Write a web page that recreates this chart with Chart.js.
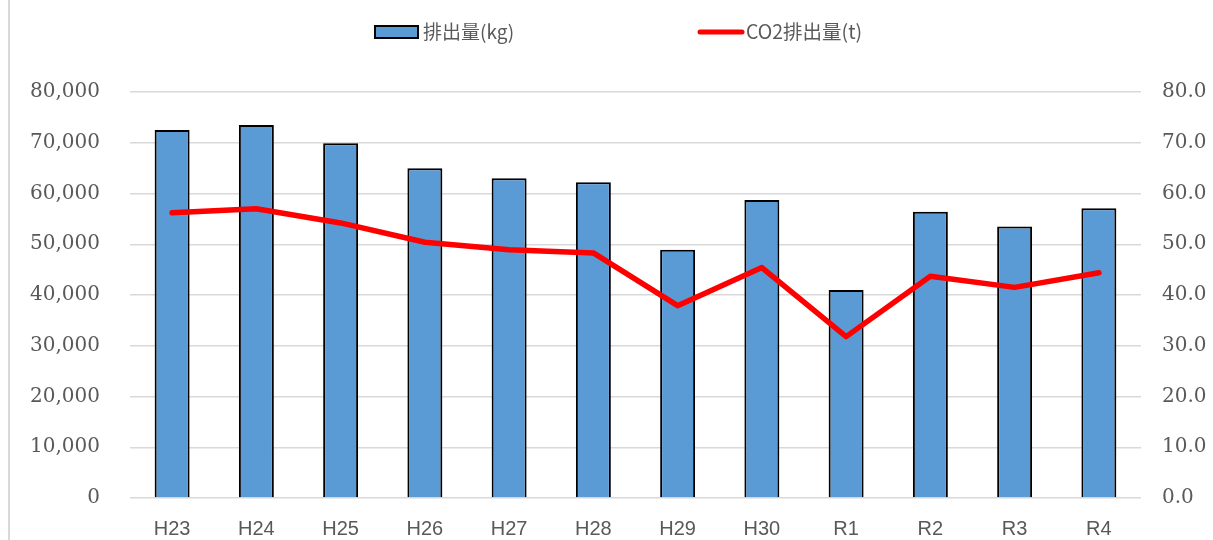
<!DOCTYPE html>
<html lang="ja">
<head>
  <meta charset="UTF-8" />
  <title>排出量</title>
  <script src="https://cdn.jsdelivr.net/npm/chart.js"></script>
  <style>
    html, body { margin: 0; padding: 0; background: #fff; }
    #wrap { width: 1213px; height: 540px; }
  </style>
</head>
<body>
  <div id="wrap"><canvas id="chart"></canvas></div>

  <script>
    // Data
    const years = ['H23', 'H24', 'H25', 'H26', 'H27', 'H28', 'H29', 'H30', 'R1', 'R2', 'R3', 'R4'];
    const emissionKg = [72500, 73500, 69900, 65000, 63000, 62200, 48900, 58700, 41000, 56400, 53500, 57100];
    const co2Tons = [56.2, 57.0, 54.2, 50.4, 48.9, 48.3, 37.9, 45.4, 31.8, 43.7, 41.5, 44.4];
    const leftTicks = [0, 10000, 20000, 30000, 40000, 50000, 60000, 70000, 80000];
    const rightTicks = [0, 10, 20, 30, 40, 50, 60, 70, 80];

    const barColor = '#5B9BD5';
    const lineColor = '#FF0000';
    const textColor = '#595959';
    const gridColor = '#d9d9d9';

    // legend + frame drawn by hand so it sits where the original has it
    const customLegend = {
      id: 'customLegend',
      beforeDraw(chart) {
        const ctx = chart.ctx;
        ctx.save();
        ctx.strokeStyle = gridColor;
        ctx.lineWidth = 2;
        ctx.beginPath();
        ctx.moveTo(9, 0);
        ctx.lineTo(9, 540);
        ctx.stroke();
        ctx.restore();
      },
      afterDraw(chart) {
        const ctx = chart.ctx;
        const ds = chart.data.datasets;
        ctx.save();
        ctx.font = '19px "Noto Sans CJK JP", "Noto Sans", sans-serif';
        ctx.textBaseline = 'middle';

        // bar item
        ctx.fillStyle = barColor;
        ctx.fillRect(375, 26, 43, 12);
        ctx.strokeStyle = '#000';
        ctx.lineWidth = 2;
        ctx.strokeRect(375, 26, 43, 12);
        ctx.fillStyle = textColor;
        ctx.fillText(ds[1].label, 423, 32);

        // line item
        ctx.strokeStyle = lineColor;
        ctx.lineWidth = 5;
        ctx.lineCap = 'round';
        ctx.beginPath();
        ctx.moveTo(700, 32);
        ctx.lineTo(742, 32);
        ctx.stroke();
        ctx.font = '19.5px "Noto Sans CJK JP", "Noto Sans", sans-serif';
        ctx.fillText(ds[0].label, 746, 32);
        ctx.restore();
      }
    };

    new Chart(document.getElementById('chart'), {
      data: {
        labels: years,
        datasets: [
          {
            type: 'line',
            label: 'CO2排出量(t)',
            data: co2Tons,
            yAxisID: 'y2',
            borderColor: lineColor,
            borderWidth: 5.5,
            borderCapStyle: 'round',
            borderJoinStyle: 'round',
            pointRadius: 0,
            tension: 0,
            order: 0
          },
          {
            type: 'bar',
            label: '排出量(kg)',
            data: emissionKg,
            yAxisID: 'y',
            backgroundColor: barColor,
            borderColor: '#000',
            borderWidth: 2,
            barPercentage: 0.83,
            categoryPercentage: 0.5,
            order: 1
          }
        ]
      },
      options: {
        responsive: true,
        maintainAspectRatio: false,
        animation: false,
        layout: { padding: { top: 92, left: 0, right: 0, bottom: 0 } },
        plugins: {
          legend: { display: false },
          tooltip: { enabled: false }
        },
        scales: {
          x: {
            grid: { display: false, drawTicks: false },
            border: { display: false },
            ticks: {
              padding: 19,
              color: textColor,
              font: { family: '"Liberation Sans", Arial, sans-serif', size: 20 }
            },
            afterFit: s => { s.height = 41; }
          },
          y: {
            position: 'left',
            min: 0,
            max: 80000,
            afterBuildTicks: s => { s.ticks = leftTicks.map(v => ({ value: v })); },
            grid: { color: gridColor, lineWidth: 1.5, drawTicks: false },
            border: { display: false },
            ticks: {
              padding: 30,
              color: textColor,
              font: { family: '"DejaVu Serif", serif', size: 20 },
              callback: v => v.toLocaleString('en-US')
            },
            afterFit: s => { s.width = 130; }
          },
          y2: {
            position: 'right',
            min: 0,
            max: 80,
            afterBuildTicks: s => { s.ticks = rightTicks.map(v => ({ value: v })); },
            grid: { display: false, drawTicks: false },
            border: { display: false },
            ticks: {
              padding: 21,
              color: textColor,
              font: { family: '"DejaVu Serif", serif', size: 20 },
              callback: v => v.toFixed(1)
            },
            afterFit: s => { s.width = 72; }
          }
        }
      },
      plugins: [customLegend]
    });
  </script>
</body>
</html>
